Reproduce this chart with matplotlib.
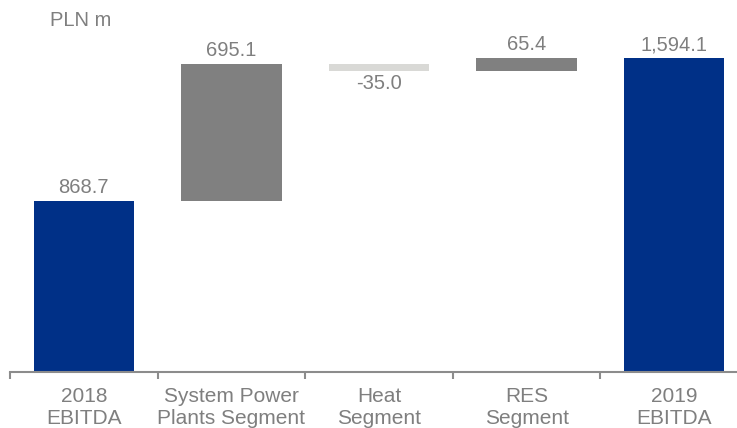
import numpy as np
import matplotlib
matplotlib.use("Agg")
import matplotlib.pyplot as plt

plt.rcParams['font.family'] = ['Liberation Sans', 'DejaVu Sans']

categories = ["2018\nEBITDA", "System Power\nPlants Segment", "Heat\nSegment", "RES\nSegment", "2019\nEBITDA"]
values = [868.7, 695.1, -35.0, 65.4, 1594.1]
labels = ["868.7", "695.1", "-35.0", "65.4", "1,594.1"]
kinds = ["total", "delta", "delta", "delta", "total"]

navy = "#003087"
grey_up = "#808080"
grey_down = "#D9D9D6"
text_col = "#7F7F7F"

# waterfall bottoms/heights
bottoms = []
heights = []
running = 0.0
for v, k in zip(values, kinds):
    if k == "total":
        bottoms.append(0.0)
        heights.append(v)
        running = v
    else:
        if v >= 0:
            bottoms.append(running)
        else:
            bottoms.append(running + v)
        heights.append(abs(v))
        running += v

colors = []
for v, k in zip(values, kinds):
    if k == "total":
        colors.append(navy)
    elif v >= 0:
        colors.append(grey_up)
    else:
        colors.append(grey_down)

fig = plt.figure(figsize=(7.37, 4.28), dpi=100)
ax = fig.add_axes([10 / 737, 56 / 428, 738 / 737, 372 / 428])

x = np.arange(len(categories))
ax.bar(x, heights, bottom=bottoms, width=0.68, color=colors, zorder=2)

for i in range(len(values)):
    top = bottoms[i] + heights[i]
    if kinds[i] == "delta" and values[i] < 0:
        ax.annotate(labels[i], (x[i], bottoms[i]), xytext=(0, -2), textcoords="offset points",
                    ha="center", va="top", fontsize=14.5, color=text_col)
    else:
        ax.annotate(labels[i], (x[i], top), xytext=(0, 3), textcoords="offset points",
                    ha="center", va="bottom", fontsize=14.5, color=text_col)

ax.set_xlim(-0.5, 4.5)
ax.set_ylim(0, 1890)

for s in ["top", "right", "left"]:
    ax.spines[s].set_visible(False)
ax.spines["bottom"].set_color("#8C8C8C")
ax.spines["bottom"].set_linewidth(1.5)
ax.set_yticks([])

# ticks at category boundaries, labels at centres
ax.set_xticks(np.arange(-0.5, 4.5, 1.0))
ax.set_xticklabels([])
ax.set_xticks(x, minor=True)
ax.set_xticklabels(categories, minor=True, fontsize=15, color=text_col, linespacing=1.15)
ax.tick_params(axis="x", which="major", length=5, width=1.5, color="#8C8C8C")
ax.tick_params(axis="x", which="minor", length=0, pad=11)

fig.text(50 / 737, 1 - 20 / 428, "PLN m", fontsize=14.5, color=text_col, va="center", ha="left")

fig.savefig("out.png", dpi=100)
